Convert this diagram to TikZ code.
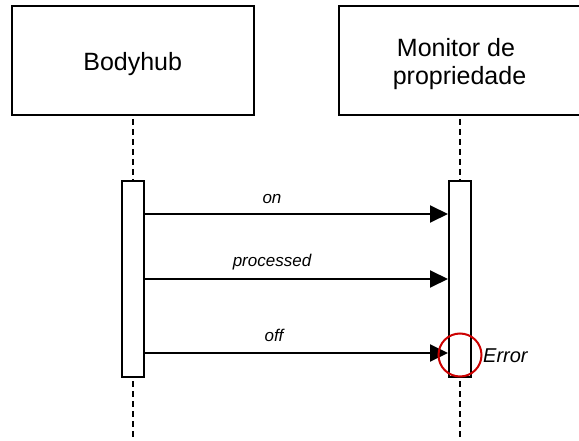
\documentclass[tikz,border=0pt]{standalone}
\usepackage{fontspec}
\setmainfont{Liberation Sans}
\usetikzlibrary{arrows.meta}
\begin{document}
\begin{tikzpicture}[x=1pt,y=-1pt,
  actor/.style={draw,line width=2pt,fill=white,minimum width=242pt,minimum height=109pt,inner sep=0pt},
  actortext/.style={anchor=base,inner sep=0pt,font=\fontsize{25}{28.3}\selectfont},
  activation/.style={draw,line width=2pt,fill=white,minimum width=22pt,minimum height=196pt,inner sep=0pt},
  lifeline/.style={line width=2pt,dash pattern=on 6pt off 4pt,dash phase=7pt},
  msg/.style={line width=2pt,-{Triangle[length=18pt,width=17pt]}},
  msglabel/.style={font=\fontsize{17}{20}\selectfont\itshape,inner sep=0pt}]
\useasboundingbox (0,0) rectangle (579,441);
% participants
\node[actor] (bh) at (132.5,60.5) {};
\node[actor] (mp) at (460,60.5) {};
\node[actortext] (bht) at (132.7,70.7) {Bodyhub};
\node[actortext] (mpt1) at (459.5,56.7) {Monitor de\hspace*{0.278em}};
\node[actortext] (mpt2) at (459.5,85) {propriedade};
% activation bars
\node[activation] (abh) at (132.5,279) {};
\node[activation] (amp) at (460,279) {};
% lifelines
\coordinate (bhend) at (132.5,438);
\coordinate (mpend) at (460,438);
\draw[lifeline] (bh.south) -- (abh.north);
\draw[lifeline] (abh.south) -- (bhend);
\draw[lifeline] (mp.south) -- (amp.north);
\draw[lifeline] (amp.south) -- (mpend);
% messages
\coordinate (s1) at (abh.east |- 0,214);
\coordinate (t1) at (amp.west |- 0,214);
\coordinate (s2) at (abh.east |- 0,279);
\coordinate (t2) at (amp.west |- 0,279);
\coordinate (s3) at (abh.east |- 0,353);
\coordinate (t3) at (amp.west |- 0,353);
\draw[msg] (s1) -- (t1);
\draw[msg] (s2) -- (t2);
\draw[msg] (s3) -- (t3);
\node[msglabel] (l1) at (272,199) {on};
\node[msglabel] (l2) at (272,262) {processed};
\node[msglabel] (l3) at (274,335) {off};
% error marker
\node[draw=red!80!black,line width=2pt,circle,minimum size=43pt,inner sep=0pt] (err) at (460,355) {};
\node[msglabel,anchor=west,font=\fontsize{20}{24}\selectfont\itshape] (errtxt) at (483,356) {Error};
\end{tikzpicture}
\end{document}
